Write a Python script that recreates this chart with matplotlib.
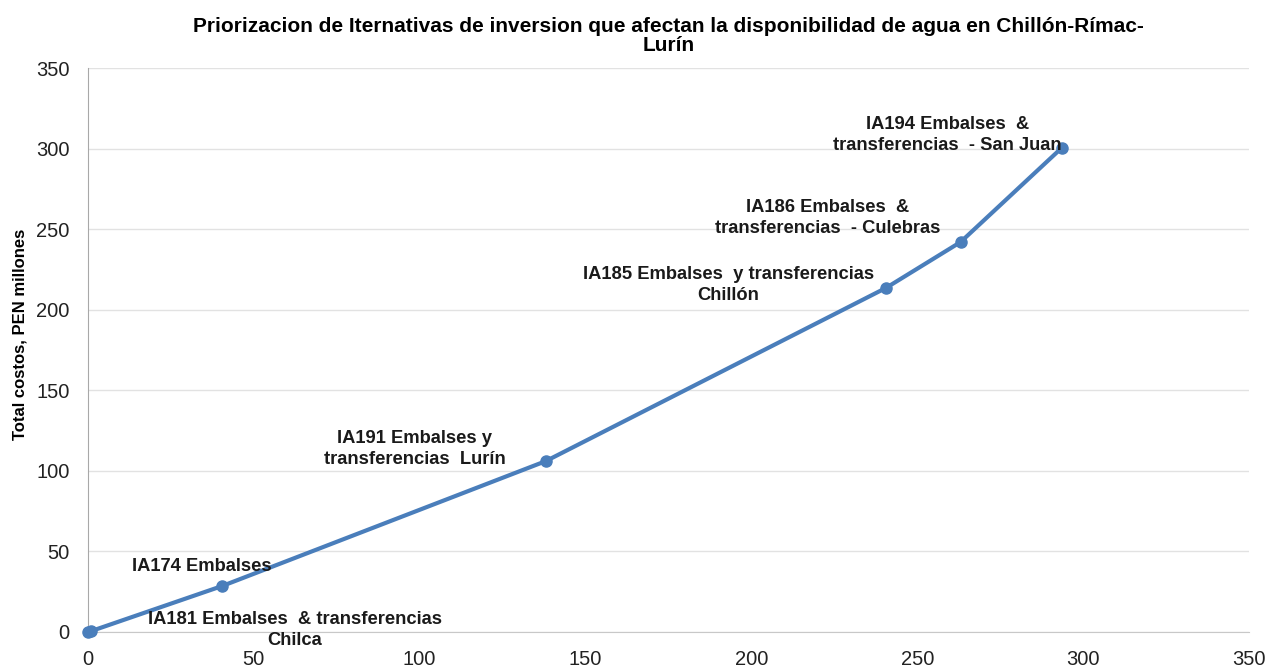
import matplotlib.pyplot as plt

plt.rcParams['font.family'] = ['Liberation Sans', 'DejaVu Sans']

# cumulative water availability vs cumulative cost for each option
capacidad = [0, 1, 40.5, 138, 240.5, 263, 293.5]
costo = [0, 0.5, 28.5, 106, 213.5, 242, 300.5]

etiquetas = [
    'IA181 Embalses  & transferencias\nChilca',
    'IA174 Embalses',
    'IA191 Embalses y\ntransferencias  Lurín',
    'IA185 Embalses  y transferencias\nChillón',
    'IA186 Embalses  &\ntransferencias  - Culebras',
    'IA194 Embalses  &\ntransferencias  - San Juan',
]
etiqueta_x = [62.5, 34.5, 98.5, 193, 223, 259]
etiqueta_y = [1.5, 40.5, 113.5, 215.5, 257, 308.5]

fig = plt.figure(figsize=(12.88, 6.67), dpi=100, facecolor='white')
ax = fig.add_axes([0.068, 0.0525, 0.902, 0.8455])

ax.plot(capacidad, costo, color='#4a7ebb', linewidth=3, marker='o',
        markersize=8, zorder=3, clip_on=False)

for txt, tx, ty in zip(etiquetas, etiqueta_x, etiqueta_y):
    ax.text(tx, ty, txt, ha='center', va='center', multialignment='center',
            fontsize=13.2, fontweight='bold', color='#1a1a1a', zorder=4,
            linespacing=1.3)

ax.set_xlim(0, 350)
ax.set_ylim(0, 350)
ax.set_xticks(range(0, 351, 50))
ax.set_yticks(range(0, 351, 50))
ax.grid(axis='y', color='#e2e2e2', linewidth=1)
ax.set_axisbelow(True)
for s in ['top', 'right']:
    ax.spines[s].set_visible(False)
ax.spines['left'].set_color('#a8a8a8')
ax.spines['bottom'].set_color('#c8c8c8')
ax.tick_params(axis='both', labelsize=14.5, length=0, pad=13, colors='#222222')
ax.set_ylabel('Total costos, PEN millones', fontsize=12, fontweight='bold')
ax.yaxis.set_label_coords(-0.052, 0.527)
ax.set_title('Priorizacion de Iternativas de inversion que afectan la disponibilidad de agua en Chillón-Rímac-\nLurín',
             fontsize=15, fontweight='bold', pad=12, linespacing=1.0)

fig.savefig('out.png', dpi=100)
